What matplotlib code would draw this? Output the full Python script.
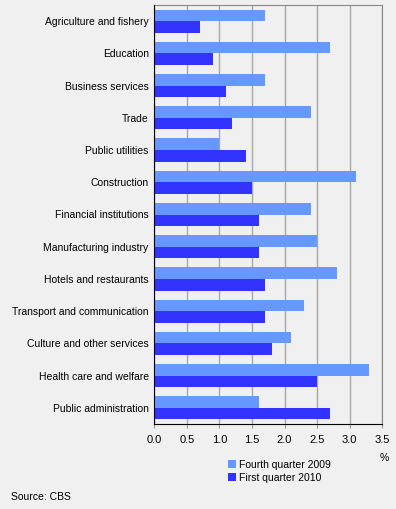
import numpy as np
from matplotlib import pyplot as plt

plt.rcParams['font.family'] = ['Liberation Sans', 'DejaVu Sans']

# -------------------------------------------------------------------------------
# data (%)

sectors = ['Agriculture and fishery', 'Education', 'Business services', 'Trade',
           'Public utilities', 'Construction', 'Financial institutions',
           'Manufacturing industry', 'Hotels and restaurants',
           'Transport and communication', 'Culture and other services',
           'Health care and welfare', 'Public administration']
q4_2009 = [1.7, 2.7, 1.7, 2.4, 1.0, 3.1, 2.4, 2.5, 2.8, 2.3, 2.1, 3.3, 1.6]
q1_2010 = [0.7, 0.9, 1.1, 1.2, 1.4, 1.5, 1.6, 1.6, 1.7, 1.7, 1.8, 2.5, 2.7]

# -------------------------------------------------------------------------------
# plot

bg = '#f0f0f0'
fs = 7.5
fig = plt.figure(figsize=(3.96, 5.09), dpi=100, facecolor=bg)
ax = fig.add_axes([154.3/396, 1 - 424/509, 228/396, 419/509], facecolor=bg)

y = np.arange(len(sectors))
h = 0.36
b1 = ax.barh(y - h/2, q4_2009, height=h, color='#6699ff', label='Fourth quarter 2009', zorder=3)
b2 = ax.barh(y + h/2, q1_2010, height=h, color='#3333ff', label='First quarter 2010', zorder=3)

ax.set_ylim(len(sectors) - 0.5, -0.5)
ax.set_xlim(0, 3.5)
ax.set_yticks(y)
ax.set_yticklabels(sectors, fontsize=fs)
ax.set_xticks(np.arange(0, 3.51, 0.5))
ax.set_xticklabels([f'{v:.1f}' for v in np.arange(0, 3.51, 0.5)], fontsize=fs + 0.5)
ax.tick_params(axis='y', length=0, pad=4)
ax.tick_params(axis='x', length=3, color='#999999', pad=5)
ax.grid(axis='x', color='#a8a8a8', linewidth=1, zorder=0)

for s in ['top', 'right']:
    ax.spines[s].set_color('#888888')
for s in ['left', 'bottom']:
    ax.spines[s].set_color('black')
    ax.spines[s].set_zorder(4)

fig.text(384/396, 1 - 458/509, '%', fontsize=fs, ha='center', va='center')
fig.legend(handles=[b1, b2], loc='upper left', bbox_to_anchor=(228/396, 1 - 460/509),
           frameon=False, fontsize=fs, handlelength=0.8, handleheight=0.8,
           handletextpad=0.3, labelspacing=0.25, borderaxespad=0, borderpad=0)
fig.text(11/396, 1 - 497/509, 'Source: CBS', fontsize=fs, ha='left', va='center')

fig.savefig('out.png', dpi=100, facecolor=bg)
